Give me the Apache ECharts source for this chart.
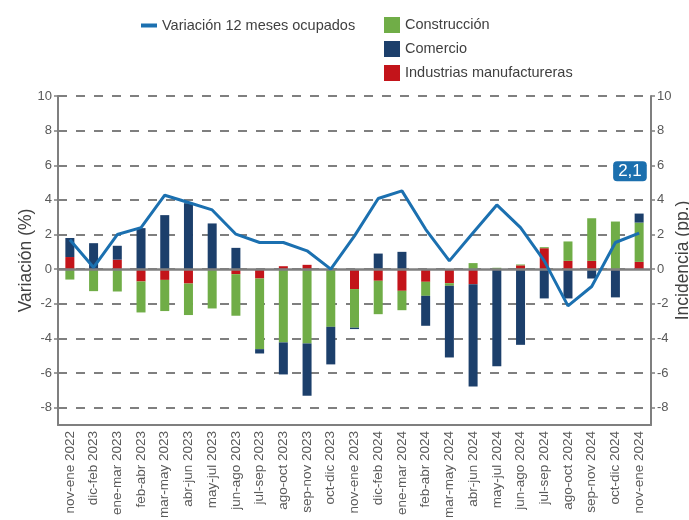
<!DOCTYPE html>
<html>
<head>
<meta charset="utf-8">
<script src="https://cdn.jsdelivr.net/npm/echarts@6/dist/echarts.min.js"></script>
<style>
	html,body{margin:0;padding:0;background:#fff;}
	#chart{width:689px;height:520px;}
</style>
</head>
<body>
<div id="chart"></div>
<script>
	var categories = ['nov-ene 2022','dic-feb 2023','ene-mar 2023','feb-abr 2023','mar-may 2023','abr-jun 2023','may-jul 2023','jun-ago 2023','jul-sep 2023','ago-oct 2023','sep-nov 2023','oct-dic 2023','nov-ene 2023','dic-feb 2024','ene-mar 2024','feb-abr 2024','mar-may 2024','abr-jun 2024','may-jul 2024','jun-ago 2024','jul-sep 2024','ago-oct 2024','sep-nov 2024','oct-dic 2024','nov-ene 2024'];
	// variacion 12 meses ocupados (%)
	var variacion = [1.7,0.1,2.0,2.4,4.27,3.85,3.42,2.02,1.54,1.54,1.06,0.0,1.92,4.08,4.52,2.3,0.48,2.1,3.71,2.4,0.48,-2.12,-1.0,1.54,2.08];
	// incidencias (pp.)
	var industrias = [0.7,0,0.55,-0.71,-0.62,-0.83,0,-0.29,-0.54,0.17,0.25,0,-1.15,-0.67,-1.25,-0.73,-0.81,-0.87,0,0.22,1.21,0.48,0.48,0,0.42];
	var construccion = [-0.6,-1.27,-1.29,-1.79,-1.8,-1.82,-2.27,-2.4,-4.08,-4.23,-4.29,-3.33,-2.23,-1.93,-1.12,-0.81,-0.15,0.35,0.08,0.05,0.06,1.12,2.46,2.75,2.27];
	var comercio = [1.1,1.5,0.8,2.37,3.12,3.81,2.64,1.23,-0.25,-1.85,-3.02,-2.17,-0.08,0.9,1.0,-1.73,-4.14,-5.9,-5.6,-4.37,-1.69,-1.69,-0.54,-1.63,0.52];
	var yTicks = [-8,-6,-4,-2,0,2,4,6,8,10];
	var lastLabel = '2,1';

	var gris = '#7f7f7f', txt = '#595959';

	var lineData = variacion.map(function(v,i){
		if(i == variacion.length-1){
			// etiqueta del ultimo dato, arriba del punto
			return {value:v,label:{show:true,formatter:lastLabel,position:[-26,-72],
				color:'#fff',fontSize:17,backgroundColor:'#1b6fae',borderRadius:4,padding:[2,5,1,5]}};
		}
		return v;
	});

	function yAx(name,pos){
		return {
			type:'value',position:pos,min:-9,max:10,
			name:name,nameLocation:'middle',nameGap:pos=='left'?23:23,nameMoveOverlap:false,
			nameTextStyle:{fontSize:17.5,color:'#404040'},
			axisLine:{show:true,lineStyle:{color:gris,width:2}},
			axisTick:{show:true,length:4,customValues:yTicks,lineStyle:{color:gris,width:1.5}},
			axisLabel:{customValues:yTicks,fontSize:13,color:txt,margin:6},
			splitLine:{show:pos=='left',lineStyle:{color:gris,width:2,type:[9,9]}}
		};
	}

	var option = {
		animation:false,
		textStyle:{fontFamily:'Liberation Sans, Arial, sans-serif'},
		grid:{left:58,right:38,top:96,bottom:95,outerBoundsMode:'none',containLabel:false},
		legend:[
			{left:136,top:13,itemWidth:16,itemHeight:4,itemGap:10,icon:'rect',
				textStyle:{fontSize:14.5,color:'#404040'},data:['Variación 12 meses ocupados']},
			{left:379,top:12,orient:'vertical',itemWidth:16,itemHeight:16,itemGap:8,icon:'rect',
				textStyle:{fontSize:14.5,color:'#404040'},
				data:['Construcción','Comercio','Industrias manufactureras']}
		],
		xAxis:{
			type:'category',data:categories,
			axisLine:{onZero:false,lineStyle:{color:gris,width:2}},
			axisTick:{alignWithLabel:true,length:5,lineStyle:{color:gris,width:1.5}},
			axisLabel:{rotate:90,fontSize:13.5,color:txt,margin:6,interval:0}
		},
		yAxis:[yAx('Variación (%)','left'),yAx('Incidencia (pp.)','right')],
		series:[
			{name:'Industrias manufactureras',type:'bar',stack:'inc',yAxisIndex:1,barWidth:9,data:industrias,
				itemStyle:{color:'#c3141a'},
				markLine:{silent:true,symbol:'none',label:{show:false},
					lineStyle:{color:gris,width:2.5,type:'solid'},data:[{yAxis:0}]}},
			{name:'Construcción',type:'bar',stack:'inc',yAxisIndex:1,barWidth:9,data:construccion,
				itemStyle:{color:'#70ad47'}},
			{name:'Comercio',type:'bar',stack:'inc',yAxisIndex:1,barWidth:9,data:comercio,
				itemStyle:{color:'#1c3f6b'}},
			{name:'Variación 12 meses ocupados',type:'line',yAxisIndex:0,data:lineData,z:5,
				symbol:'circle',symbolSize:0,showSymbol:true,
				lineStyle:{color:'#1b70b0',width:3},itemStyle:{color:'#1b70b0'}}
		]
	};
	var myChart = echarts.init(document.getElementById('chart'));
	myChart.setOption(option);
</script>
</body>
</html>
